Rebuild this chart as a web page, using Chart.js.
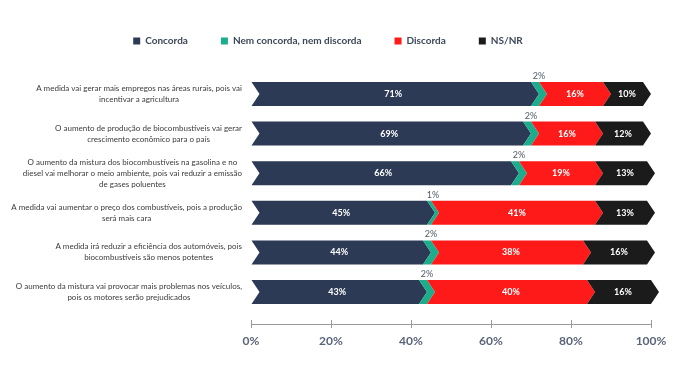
<!DOCTYPE html>
<html>
<head>
<meta charset="utf-8">
<script src="https://cdn.jsdelivr.net/npm/chart.js@4"></script>
<style>
  html, body { margin: 0; padding: 0; background: #fff; }
  #wrap { width: 680px; height: 382px; }
</style>
</head>
<body>
<div id="wrap"><canvas id="myChart"></canvas></div>
<script>
const categories = [
    ['A medida vai gerar mais empregos nas áreas rurais, pois vai', 'incentivar a agricultura'],
    ['O aumento de produção de biocombustíveis vai gerar', 'crescimento econômico para o país'],
    ['O aumento da mistura dos biocombustíveis na gasolina e no', 'diesel vai melhorar o meio ambiente, pois vai reduzir a emissão', 'de gases poluentes'],
    ['A medida vai aumentar o preço dos combustíveis, pois a produção', 'será mais cara'],
    ['A medida irá reduzir a eficiência dos automóveis, pois', 'biocombustíveis são menos potentes'],
    ['O aumento da mistura vai provocar mais problemas nos veículos,', 'pois os motores serão prejudicados']
];
const seriesNames = ['Concorda', 'Nem concorda, nem discorda', 'Discorda', 'NS/NR'];
const concorda = [71, 69, 66, 45, 44, 43];
const nemNem = [2, 2, 2, 1, 2, 2];
const discorda = [16, 16, 19, 41, 38, 40];
const nsnr = [10, 12, 13, 13, 16, 16];
const xTicks = [0, 20, 40, 60, 80, 100];

const colors = ['#2c3a55', '#1cae8c', '#ff1a1a', '#1b1b1b'];
const FONT = 'Lato';

// bars sit on a linear index axis so the spacing can be tuned
const toPoints = arr => arr.map((v, i) => ({ x: v, y: i }));

const chevrons = {
    id: 'chevrons',
    beforeDatasetsDraw(chart) {
        const ctx = chart.ctx;
        const d = 8;
        chart.data.datasets.forEach((ds, di) => {
            const meta = chart.getDatasetMeta(di);
            meta.data.forEach(bar => {
                const top = bar.y - bar.height / 2;
                const bottom = bar.y + bar.height / 2;
                const left = di === 0 ? bar.base : bar.base - d / 2;
                const notch = di === 0 ? bar.base + d : bar.base + d / 2;
                ctx.beginPath();
                ctx.moveTo(left, top);
                ctx.lineTo(bar.x - d / 2, top);
                ctx.lineTo(bar.x + d / 2, bar.y);
                ctx.lineTo(bar.x - d / 2, bottom);
                ctx.lineTo(left, bottom);
                ctx.lineTo(notch, bar.y);
                ctx.closePath();
                ctx.fillStyle = ds.backgroundColor;
                ctx.fill();
            });
        });
        return false; // skip the default rectangles
    },
    afterDraw(chart) {
        const ctx = chart.ctx;
        ctx.save();

        // value labels
        ctx.textAlign = 'center';
        ctx.textBaseline = 'middle';
        chart.data.datasets.forEach((ds, di) => {
            const meta = chart.getDatasetMeta(di);
            meta.data.forEach((bar, i) => {
                const v = ds.data[i].x;
                const cx = (bar.base + bar.x) / 2;
                if (di === 1) {
                    ctx.font = '9px ' + FONT;
                    ctx.fillStyle = '#4d5a66';
                    ctx.fillText(v + '%', cx, bar.y - bar.height / 2 - 6);
                } else {
                    ctx.font = 'bold 9px ' + FONT;
                    ctx.fillStyle = '#ffffff';
                    ctx.fillText(v + '%', cx, bar.y);
                }
            });
        });

        // category labels: block right aligned, lines centred
        const yScale = chart.scales.y;
        ctx.font = '8px ' + FONT;
        ctx.fillStyle = '#3a3a3a';
        categories.forEach((lines, i) => {
            const w = Math.max(...lines.map(l => ctx.measureText(l).width));
            const cx = 242 - w / 2;
            const cy = yScale.getPixelForValue(i);
            lines.forEach((l, k) => {
                ctx.fillText(l, cx, cy + (k - (lines.length - 1) / 2) * 11);
            });
        });

        // tick marks above the axis line too
        const xScale = chart.scales.x;
        const yb = chart.chartArea.bottom;
        ctx.strokeStyle = '#9a9a9a';
        ctx.lineWidth = 1;
        xScale.ticks.forEach(t => {
            const px = Math.round(xScale.getPixelForValue(t.value)) + 0.5;
            ctx.beginPath();
            ctx.moveTo(px, yb - 4);
            ctx.lineTo(px, yb);
            ctx.stroke();
        });
        ctx.restore();
    }
};

const ctx = document.getElementById('myChart').getContext('2d');
window.myChart = new Chart(ctx, {
    type: 'bar',
    data: {
        datasets: [concorda, nemNem, discorda, nsnr].map((arr, i) => ({
            label: seriesNames[i],
            data: toPoints(arr),
            backgroundColor: colors[i],
            barThickness: 24
        }))
    },
    options: {
        indexAxis: 'y',
        responsive: true,
        maintainAspectRatio: false,
        animation: false,
        layout: { padding: { left: 5, right: 29, top: 3, bottom: 32 } },
        plugins: {
            legend: {
                position: 'top',
                labels: {
                    boxWidth: 7,
                    boxHeight: 7,
                    padding: 33,
                    color: '#3c4858',
                    font: { family: FONT, size: 10, weight: 'bold' }
                }
            },
            tooltip: { enabled: false }
        },
        scales: {
            x: {
                stacked: true,
                min: 0,
                max: 100,
                afterFit(scale) { scale.height = 26; },
                afterBuildTicks(scale) { scale.ticks = xTicks.map(v => ({ value: v })); },
                ticks: {
                    callback: v => v + '%',
                    color: '#5a6578',
                    padding: 6,
                    font: { family: FONT, size: 12, weight: 'bold' }
                },
                grid: { drawOnChartArea: false, drawTicks: true, tickLength: 4, color: '#9a9a9a' },
                border: { display: true, color: '#9a9a9a' }
            },
            y: {
                type: 'linear',
                stacked: true,
                reverse: true,
                offset: false,
                min: -0.96,
                max: 5.808,
                afterFit(scale) { scale.width = 246; },
                ticks: { display: false },
                grid: { display: false },
                border: { display: false }
            }
        }
    },
    plugins: [chevrons]
});
</script>
</body>
</html>
